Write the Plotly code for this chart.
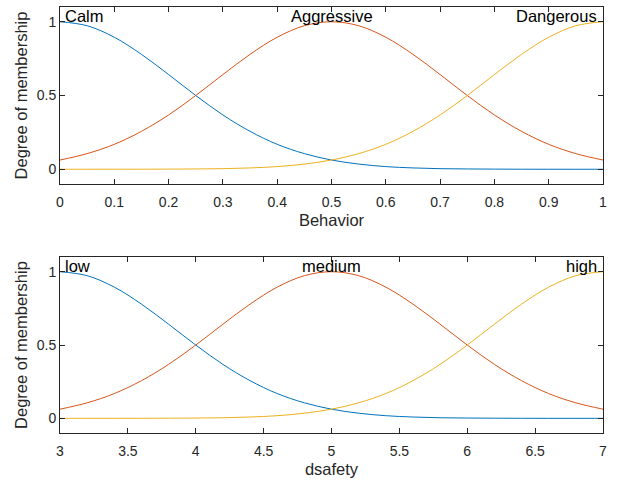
import plotly.graph_objects as go
from plotly.subplots import make_subplots

# ---- data ----
behavior_x = [0.0, 0.05, 0.1, 0.15, 0.2, 0.25, 0.3, 0.35, 0.4, 0.45, 0.5,
              0.55, 0.6, 0.65, 0.7, 0.75, 0.8, 0.85, 0.9, 0.95, 1.0]
calm = [1.0, 0.973, 0.895, 0.779, 0.642, 0.5, 0.368, 0.257, 0.169, 0.106, 0.0625,
        0.035, 0.018, 0.009, 0.004, 0.002, 0.001, 0.0003, 0.0001, 0.0, 0.0]
aggressive = [0.0625, 0.106, 0.169, 0.257, 0.368, 0.5, 0.642, 0.779, 0.895, 0.973, 1.0,
              0.973, 0.895, 0.779, 0.642, 0.5, 0.368, 0.257, 0.169, 0.106, 0.0625]
dangerous = [0.0, 0.0, 0.0001, 0.0003, 0.001, 0.002, 0.004, 0.009, 0.018, 0.035, 0.0625,
             0.106, 0.169, 0.257, 0.368, 0.5, 0.642, 0.779, 0.895, 0.973, 1.0]

dsafety_x = [3.0, 3.2, 3.4, 3.6, 3.8, 4.0, 4.2, 4.4, 4.6, 4.8, 5.0,
             5.2, 5.4, 5.6, 5.8, 6.0, 6.2, 6.4, 6.6, 6.8, 7.0]
low = [1.0, 0.973, 0.895, 0.779, 0.642, 0.5, 0.368, 0.257, 0.169, 0.106, 0.0625,
       0.035, 0.018, 0.009, 0.004, 0.002, 0.001, 0.0003, 0.0001, 0.0, 0.0]
medium = [0.0625, 0.106, 0.169, 0.257, 0.368, 0.5, 0.642, 0.779, 0.895, 0.973, 1.0,
          0.973, 0.895, 0.779, 0.642, 0.5, 0.368, 0.257, 0.169, 0.106, 0.0625]
high = [0.0, 0.0, 0.0001, 0.0003, 0.001, 0.002, 0.004, 0.009, 0.018, 0.035, 0.0625,
        0.106, 0.169, 0.257, 0.368, 0.5, 0.642, 0.779, 0.895, 0.973, 1.0]

behavior_ticks = [0, 0.1, 0.2, 0.3, 0.4, 0.5, 0.6, 0.7, 0.8, 0.9, 1]
behavior_ticktext = ["0", "0.1", "0.2", "0.3", "0.4", "0.5", "0.6", "0.7", "0.8", "0.9", "1"]
dsafety_ticks = [3, 3.5, 4, 4.5, 5, 5.5, 6, 6.5, 7]
dsafety_ticktext = ["3", "3.5", "4", "4.5", "5", "5.5", "6", "6.5", "7"]
y_ticks = [0, 0.5, 1]
y_ticktext = ["0", "0.5", "1"]

behavior_names = ["Calm", "Aggressive", "Dangerous"]
dsafety_names = ["low", "medium", "high"]
colors = ["#0072BD", "#D95319", "#EDB120"]

FONT = "Liberation Sans, Arial, sans-serif"
AX = "#262626"
TSIZE = 16.5

fig = make_subplots(rows=2, cols=1, vertical_spacing=0.0)

for ys, c, n in zip([calm, aggressive, dangerous], colors, behavior_names):
    fig.add_trace(go.Scatter(x=behavior_x, y=ys, mode="lines", name=n,
                             line=dict(color=c, width=1, shape="spline")), row=1, col=1)
for ys, c, n in zip([low, medium, high], colors, dsafety_names):
    fig.add_trace(go.Scatter(x=dsafety_x, y=ys, mode="lines", name=n,
                             line=dict(color=c, width=1, shape="spline")), row=2, col=1)

axis_common = dict(showline=True, mirror="ticks", linecolor=AX, linewidth=1,
                   ticks="inside", ticklen=5, tickcolor=AX, tickwidth=1,
                   showgrid=False, zeroline=False, automargin=False,
                   tickfont=dict(family=FONT, size=14, color=AX))

fig.update_xaxes(**axis_common, ticklabelstandoff=5)
fig.update_yaxes(**axis_common)

fig.update_layout(
    xaxis=dict(domain=[0, 1], range=[0, 1], tickvals=behavior_ticks, ticktext=behavior_ticktext,
               title=dict(text="Behavior", font=dict(family=FONT, size=TSIZE, color=AX), standoff=5)),
    yaxis=dict(domain=[0.5845, 1.0], range=[-0.1, 1.1], tickvals=y_ticks, ticktext=y_ticktext,
               title=dict(text="Degree of membership", font=dict(family=FONT, size=TSIZE, color=AX), standoff=4)),
    xaxis2=dict(domain=[0, 1], range=[3, 7], tickvals=dsafety_ticks, ticktext=dsafety_ticktext,
                title=dict(text="dsafety", font=dict(family=FONT, size=TSIZE, color=AX), standoff=5)),
    yaxis2=dict(domain=[0.0, 0.413], range=[-0.1, 1.1], tickvals=y_ticks, ticktext=y_ticktext,
                title=dict(text="Degree of membership", font=dict(family=FONT, size=TSIZE, color=AX), standoff=4)),
)

ann_font = dict(family=FONT, size=TSIZE, color="black")
for xref, yref, xs, names in [("x", "y", behavior_x, behavior_names),
                              ("x2", "y2", dsafety_x, dsafety_names)]:
    pos = [(xs[0], "left", 3), (xs[10], "center", 0), (xs[-1], "right", -4)]
    for (px, anchor, sh), name in zip(pos, names):
        fig.add_annotation(x=px, y=1, xref=xref, yref=yref, text=name, showarrow=False,
                           xanchor=anchor, yanchor="bottom", xshift=sh, yshift=-5,
                           font=ann_font)

fig.update_layout(
    width=623, height=480,
    margin=dict(l=60, r=20, t=7, b=47),
    paper_bgcolor="white", plot_bgcolor="white",
    showlegend=False,
)

fig.write_html("out.html")
